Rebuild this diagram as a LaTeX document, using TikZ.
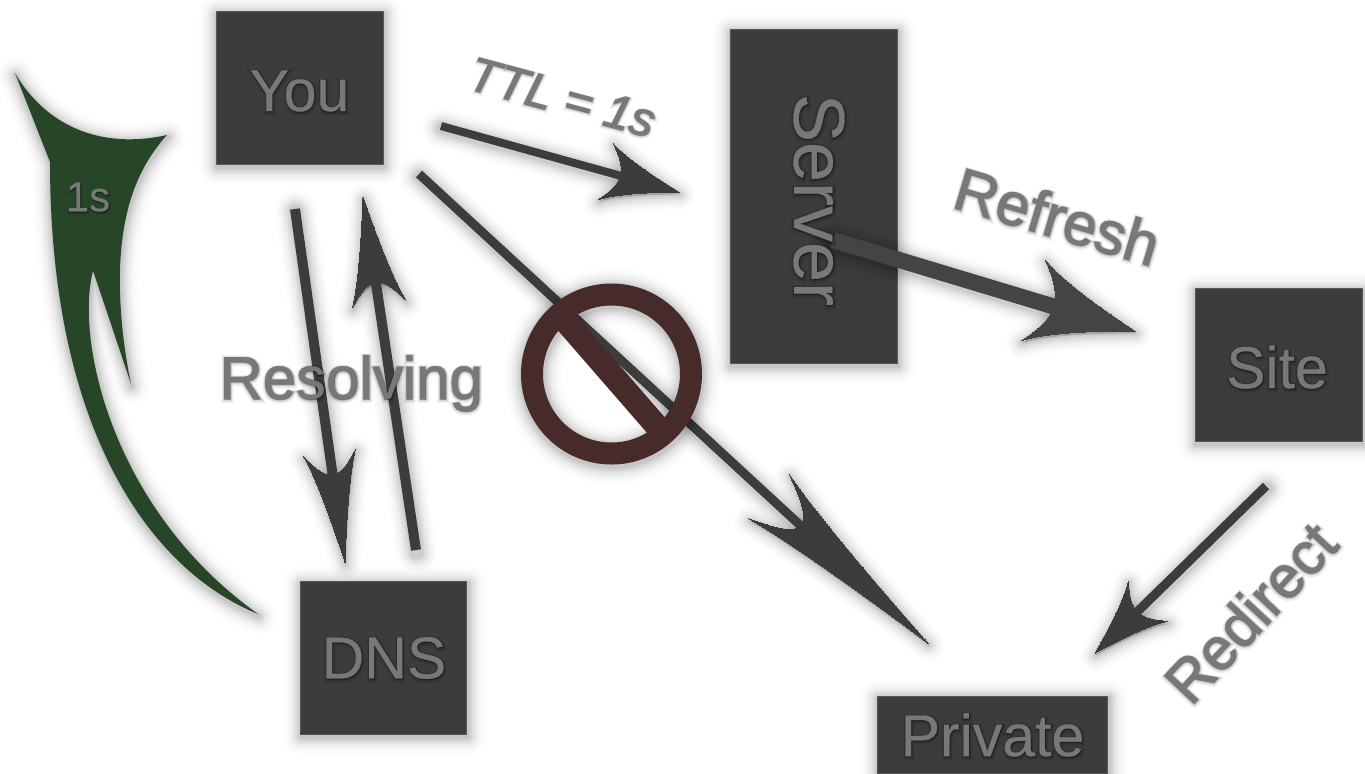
\documentclass[tikz,border=0pt]{standalone}
\usepackage{fontspec}
\setmainfont{Liberation Sans}
\usetikzlibrary{arrows.meta,calc,shapes.geometric}

\definecolor{boxgray}{HTML}{3C3C3C}
\definecolor{wordgray}{HTML}{787878}
\definecolor{mossgreen}{HTML}{274627}
\definecolor{signbrown}{HTML}{472B2B}

% curved swallow tail head, the tip ends on the target
\pgfdeclarearrow{
  name=Barb,
  parameters={\the\pgfarrowlength,\the\pgfarrowwidth,\the\pgfarrowlinewidth},
  setup code={
    \pgfarrowssettipend{0pt}
    \pgfarrowssetlineend{-.75\pgfarrowlength}
    \pgfarrowssetvisualbackend{-\pgfarrowlength}
    \pgfarrowssavethe\pgfarrowlength
    \pgfarrowssavethe\pgfarrowwidth
    \pgfarrowssavethe\pgfarrowlinewidth
  },
  drawing code={
    \pgfsetlinewidth{\pgfarrowlinewidth}
    \pgfsetroundjoin
    \pgfpathmoveto{\pgfpoint{0pt}{0pt}}
    \pgfpathcurveto{\pgfpoint{-.4\pgfarrowlength}{.15\pgfarrowwidth}}{\pgfpoint{-.8\pgfarrowlength}{.33\pgfarrowwidth}}{\pgfpoint{-\pgfarrowlength}{.5\pgfarrowwidth}}
    \pgfpathcurveto{\pgfpoint{-.88\pgfarrowlength}{.32\pgfarrowwidth}}{\pgfpoint{-.8\pgfarrowlength}{.17\pgfarrowwidth}}{\pgfpoint{-.8\pgfarrowlength}{0pt}}
    \pgfpathcurveto{\pgfpoint{-.8\pgfarrowlength}{-.17\pgfarrowwidth}}{\pgfpoint{-.88\pgfarrowlength}{-.32\pgfarrowwidth}}{\pgfpoint{-\pgfarrowlength}{-.5\pgfarrowwidth}}
    \pgfpathcurveto{\pgfpoint{-.8\pgfarrowlength}{-.33\pgfarrowwidth}}{\pgfpoint{-.4\pgfarrowlength}{-.15\pgfarrowwidth}}{\pgfpoint{0pt}{0pt}}
    \pgfpathclose
    \pgfusepathqfillstroke
  },
  defaults={length=40pt,width=28pt,line width=0pt}
}

\tikzset{
  softcast/.style={draw=black,opacity=#1,line cap=round,line join=round,transform canvas={xshift=.4pt,yshift=-1.2pt}},
  softedge/.style={
    preaction={softcast=.006,line width=#1+18pt},
    preaction={softcast=.008,line width=#1+16pt},
    preaction={softcast=.012,line width=#1+14pt},
    preaction={softcast=.016,line width=#1+12pt},
    preaction={softcast=.022,line width=#1+10pt},
    preaction={softcast=.03,line width=#1+8pt},
    preaction={softcast=.04,line width=#1+6pt},
    preaction={softcast=.05,line width=#1+4pt},
    preaction={softcast=.06,line width=#1+2pt}},
  boxnode/.style={rectangle,fill=boxgray,draw=boxgray!85!white,line width=.3pt,inner sep=0pt,outer sep=0pt,softedge=0pt},
  barbcast/.style n args={5}{softcast=#5,line width=#1+#4,-{Barb[length=#2,width=#3,line width=#4]}},
  barbline/.style n args={4}{line width=#1,draw=#4,-{Barb[length=#2,width=#3]},
    preaction={barbcast={#1}{#2}{#3}{16pt}{.006}},
    preaction={barbcast={#1}{#2}{#3}{14pt}{.01}},
    preaction={barbcast={#1}{#2}{#3}{12pt}{.014}},
    preaction={barbcast={#1}{#2}{#3}{10pt}{.02}},
    preaction={barbcast={#1}{#2}{#3}{8pt}{.028}},
    preaction={barbcast={#1}{#2}{#3}{6pt}{.036}},
    preaction={barbcast={#1}{#2}{#3}{4pt}{.045}},
    preaction={barbcast={#1}{#2}{#3}{2pt}{.055}}},
  wordtext/.style={text=wordgray,inner sep=0pt,outer sep=0pt},
  bigword/.style={font=\fontsize{29.5}{32}\selectfont}
}

% word with a blurred dark halo behind it
\newcommand{\softlabel}[4]{%
  \node[wordtext,#3,text=black,opacity=.07] (#1Wide) at ($(#2)+(.5,1.5)$) {\addfontfeature{FakeBold=10}#4};
  \node[wordtext,#3,text=black,opacity=.12] (#1Halo) at ($(#2)+(.5,1)$) {\addfontfeature{FakeBold=5.5}#4};
  \node[wordtext,#3,text=black,opacity=.2] (#1Rim) at ($(#2)+(.5,.5)$) {\addfontfeature{FakeBold=2.5}#4};
  \node[wordtext,#3] (#1) at (#2) {\addfontfeature{FakeBold=.5}#4};
}

\begin{document}
\begin{tikzpicture}[x=.5pt,y=-.5pt]
    \useasboundingbox (0,0) rectangle (1365,773);
    % Boxes
    \node[boxnode,minimum width=83.6pt,minimum height=76.6pt] (you) at (300,88) {};
    \node[boxnode,minimum width=83.6pt,minimum height=167.2pt] (server) at (814,196.5) {};
    \node[boxnode,minimum width=83.6pt,minimum height=76.6pt] (site) at (1279,365) {};
    \node[boxnode,minimum width=83.2pt,minimum height=76.6pt] (dns) at (383.5,658) {};
    \node[boxnode,minimum width=115.2pt,minimum height=38.5pt] (private) at (992.5,734.5) {};

    % Free ends of the connectors
    \coordinate (ttlTail) at (441,126);
    \coordinate (ttlTip) at (679,192);
    \coordinate (blockTail) at (419,174);
    \coordinate (blockTip) at (928,643);
    \coordinate (askTail) at (295,209);
    \coordinate (askTip) at (345,562);
    \coordinate (answerTail) at (416,550);
    \coordinate (answerTip) at (363,197);
    \coordinate (refreshTail) at (833,240);
    \coordinate (refreshTip) at (1135,331);
    \coordinate (redirectTail) at (1266,486);
    \coordinate (redirectTip) at (1095,653);

    % Connectors
    \draw[barbline={4pt}{38pt}{29pt}{boxgray}] (ttlTail) -- (ttlTip);
    \draw[barbline={4.5pt}{108pt}{30pt}{boxgray}] (blockTail) -- (blockTip);
    \draw[barbline={5pt}{55pt}{26pt}{boxgray}] (askTail) -- (askTip);
    \draw[barbline={5pt}{54pt}{27pt}{boxgray}] (answerTail) -- (answerTip);
    \draw[barbline={8pt}{53pt}{42pt}{boxgray!96!white}] (refreshTail) -- (refreshTip);
    \draw[barbline={4.5pt}{37pt}{28pt}{boxgray}] (redirectTail) -- (redirectTip);

    % Big curved green arrow
    \fill[mossgreen,softedge=0pt] (15,73) .. controls (45,125) and (100,150) .. (167,135)
      .. controls (140,165) and (122,205) .. (120,270)
      .. controls (119,310) and (124,350) .. (131,384)
      .. controls (118,345) and (103,300) .. (93,271)
      .. controls (75,340) and (112,510) .. (258,614)
      .. controls (150,570) and (50,430) .. (50,162) -- cycle;

    % Forbidden sign
    \node[circle,draw=signbrown,line width=11pt,minimum size=79.5pt,inner sep=0pt,outer sep=0pt,softedge=11pt] (noEntry) at (611.5,374) {};
    \draw[signbrown,line width=11.8pt] (noEntry.131) -- (noEntry.-49);

    % Labels
    \softlabel{youText}{299.5,91}{bigword}{You}
    \softlabel{serverText}{819,200}{rotate=-90,font=\fontsize{36}{40}\selectfont}{Server}
    \softlabel{siteText}{1277,367}{bigword}{Site}
    \softlabel{dnsText}{384,658}{bigword}{DNS}
    \softlabel{privateText}{992.5,735}{bigword}{Private}
    \softlabel{ttlText}{562,97}{rotate=-15,font=\itshape\fontsize{24}{26}\selectfont}{TTL = 1s}
    \softlabel{refreshText}{1057,216}{rotate=-16.5,font=\fontsize{30}{32}\selectfont}{Refresh}
    \softlabel{redirectText}{1250,612}{rotate=47,font=\fontsize{29.5}{32}\selectfont}{Redirect}
    \softlabel{resolvingText}{351,383}{font=\fontsize{30}{32}\selectfont}{Resolving}
    \softlabel{ttlValue}{88,197}{font=\fontsize{21}{23}\selectfont}{1s}
\end{tikzpicture}
\end{document}
